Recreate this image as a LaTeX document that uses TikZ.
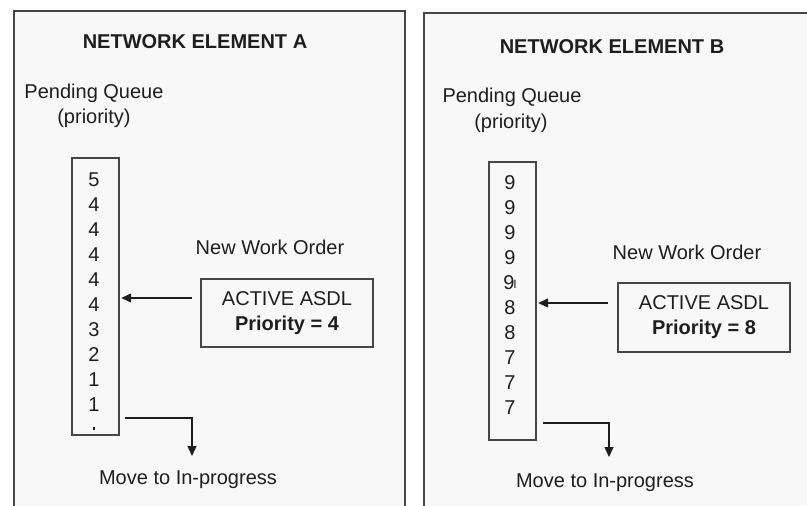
\documentclass[tikz,border=0pt]{standalone}
\usepackage{fontspec}
\setmainfont{Liberation Sans}
\usetikzlibrary{arrows.meta}

\definecolor{panelfill}{RGB}{248,248,248}
\definecolor{edge}{RGB}{70,70,70}
\definecolor{ink}{RGB}{30,30,30}

\tikzset{
	lbl/.style={inner sep=0pt,text=ink,font=\fontsize{20}{25}\selectfont},
	ttl/.style={lbl,font=\fontsize{20}{25}\selectfont\bfseries},
	qbox/.style={draw=edge,line width=1.4pt,inner sep=0pt},
	wobox/.style={draw=edge,line width=1.4pt,align=center,text=ink,
		font=\fontsize{20}{25}\selectfont},
	arr/.style={-{Triangle[length=10pt,width=9pt]},line width=1.3pt,draw=ink}
}

\begin{document}
\begin{tikzpicture}[x=1pt,y=-1pt]
	\useasboundingbox (0,0) rectangle (807,506);
	\fill[white] (0,0) rectangle (807,506);

	% the two panels, cut off at the bottom
	\fill[panelfill] (14,11) rectangle (405,506);
	\fill[panelfill] (424,13) rectangle (807,506);
	\draw[edge,line width=2pt] (14,506) -- (14,11) -- (405,11) -- (405,506);
	\draw[edge,line width=2pt] (424,506) -- (424,13) -- (807,13);

	% network element A
	\node[ttl] (titleA) at (195,42) {NETWORK ELEMENT A};
	\node[lbl] (pendA) at (94,93) {Pending Queue};
	\node[lbl] (prioA) at (94,118) {(priority)};

	\node[qbox,minimum width=47pt,minimum height=277pt] (qA) at (95.5,296.5) {};
	\foreach \v [count=\i] in {5,4,4,4,4,4,3,2,1,1}
		\node[lbl] (a\i) at (94,155+25*\i) {\v};
	% top of a cut-off last entry
	\fill[ink] (93.2,427) rectangle (95,430);

	\node[lbl] (newA) at (270,247) {New Work Order};
	\node[wobox,minimum width=172pt,minimum height=68pt] (asdlA) at (287,313)
		{ACTIVE ASDL\\\textbf{Priority = 4}};
	\coordinate (inA) at (192,298);
	\draw[arr,shorten >=1.5pt] (inA) -- (inA -| qA.east);

	\coordinate (outA) at (125,418);
	\coordinate (dnA) at (192,456);
	\draw[arr] (outA) -| (dnA);
	\node[lbl] (moveA) at (188,480) {Move to In-progress};

	% network element B
	\node[ttl] (titleB) at (612,47) {NETWORK ELEMENT B};
	\node[lbl] (pendB) at (512,97) {Pending Queue};
	\node[lbl] (prioB) at (511,123) {(priority)};

	\node[qbox,minimum width=47pt,minimum height=278pt] (qB) at (512.5,301) {};
	\foreach \v [count=\i] in {9,9,9,9,{9\kern-1pt\raisebox{1pt}{\fontsize{12}{12}\selectfont I}},8,8,7,7,7}
		\node[lbl] (b\i) at (510,158+25*\i) {\v};

	\node[lbl] (newB) at (687,252) {New Work Order};
	\node[wobox,minimum width=172pt,minimum height=69pt] (asdlB) at (704,317.5)
		{ACTIVE ASDL\\\textbf{Priority = 8}};
	\coordinate (inB) at (608,303);
	\draw[arr,shorten >=1.5pt] (inB) -- (inB -| qB.east);

	\coordinate (outB) at (543,423);
	\coordinate (dnB) at (609,457);
	\draw[arr] (outB) -| (dnB);
	\node[lbl] (moveB) at (605,483) {Move to In-progress};
\end{tikzpicture}
\end{document}
